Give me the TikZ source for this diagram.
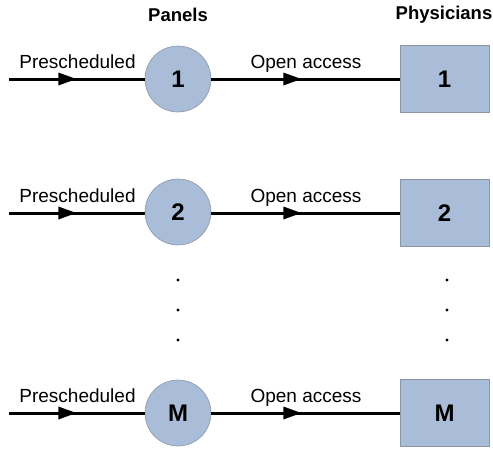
\documentclass[tikz,border=0pt]{standalone}
\usepackage{fontspec}
\setmainfont{Liberation Sans}
\usetikzlibrary{decorations.markings}
\definecolor{boxfill}{RGB}{170,189,216}
\definecolor{boxline}{RGB}{140,150,165}
\tikzset{
  x=1pt, y=-1pt,
  panel/.style={circle, draw=boxline, line width=0.6pt, fill=boxfill, minimum size=66pt, inner sep=0pt, font=\fontsize{24}{26}\selectfont\bfseries},
  doc/.style={rectangle, draw=boxline, line width=0.6pt, fill=boxfill, minimum width=89pt, minimum height=67pt, inner sep=0pt, font=\fontsize{24}{26}\selectfont\bfseries},
  head/.style={font=\fontsize{18.5}{20}\selectfont\bfseries},
  lab/.style={font=\fontsize{19}{21}\selectfont, anchor=base},
  flow/.style={line width=3pt, postaction={decorate}, decoration={markings, mark=at position 0.43 with {\fill[black] (-9,-6.5) -- (9,0) -- (-9,6.5) -- cycle;}}},
  dot/.style={circle, fill=black, inner sep=0pt, minimum size=3.4pt}
}
\begin{document}
\begin{tikzpicture}
\useasboundingbox (0,0) rectangle (493,451);
\node[head] (hp) at (178,15) {Panels};
\node[head] (hd) at (444,15) {Physicians};
% row 1
\coordinate (s1) at (9,79);
\node[panel] (p1) at (178,79) {1};
\node[doc] (d1) at (444.5,79) {1};
\draw[flow] (s1) -- (p1);
\draw[flow] (p1) -- (d1);
\node[lab] (l1a) at (77.5,68) {Prescheduled};
\node[lab] (l1b) at (306,68) {Open access};
% row 2
\coordinate (s2) at (9,213);
\node[panel] (p2) at (178,212) {2};
\node[doc] (d2) at (444.5,213) {2};
\draw[flow] (s2) -- (s2 -| p2.west);
\draw[flow] (p2.east |- s2) -- (d2.west |- s2);
\node[lab] (l2a) at (77.5,202) {Prescheduled};
\node[lab] (l2b) at (306,202) {Open access};
% dots
\node[dot] (a1) at (178,280) {};
\node[dot] (a2) at (178,310) {};
\node[dot] (a3) at (178,340) {};
\node[dot] (b1) at (447,280) {};
\node[dot] (b2) at (447,310) {};
\node[dot] (b3) at (447,340) {};
% row M
\coordinate (sm) at (9,413);
\node[panel] (pm) at (178,413) {M};
\node[doc] (dm) at (444.5,413) {M};
\draw[flow] (sm) -- (pm);
\draw[flow] (pm) -- (dm);
\node[lab] (lma) at (77.5,402) {Prescheduled};
\node[lab] (lmb) at (306,402) {Open access};
\end{tikzpicture}
\end{document}
